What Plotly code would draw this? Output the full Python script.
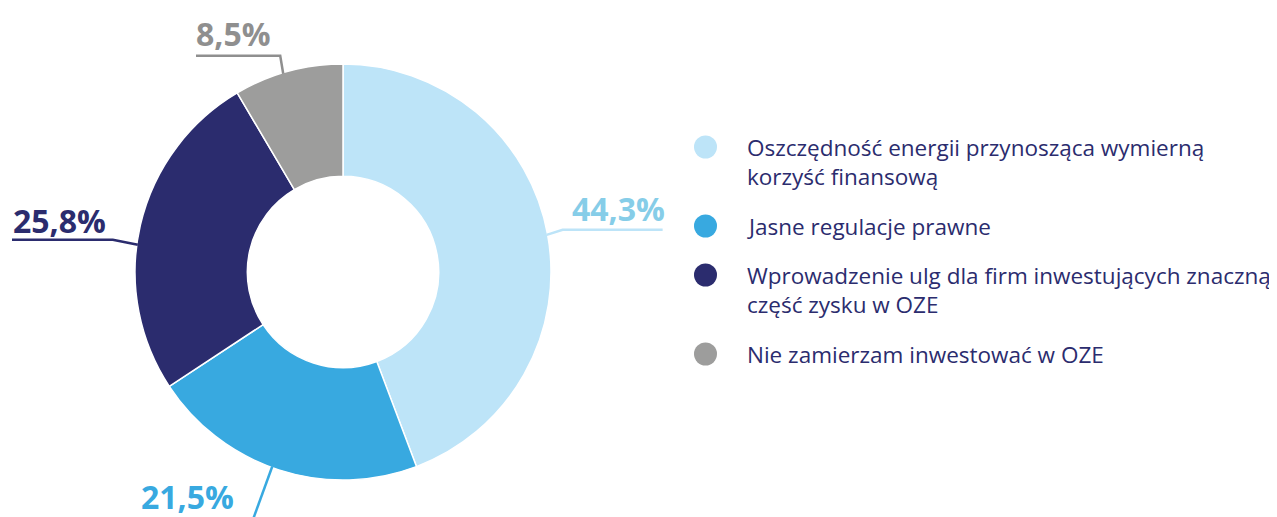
import math
import plotly.graph_objects as go

# ---- data ----
categories = [
    "Oszczędność energii przynosząca wymierną<br>korzyść finansową",
    "Jasne regulacje prawne",
    "Wprowadzenie ulg dla firm inwestujących znaczną<br>część zysku w OZE",
    "Nie zamierzam inwestować w OZE",
]
values = [44.3, 21.5, 25.8, 8.5]
value_labels = ["44,3%", "21,5%", "25,8%", "8,5%"]

# ---- style ----
slice_colors = ["#bde4f8", "#38a9e0", "#2b2c6e", "#9d9d9c"]
label_colors = ["#86cde8", "#38a9e0", "#2b2c6e", "#8f8f8f"]
line_colors = ["#bde4f8", "#38a9e0", "#2b2c6e", "#8f8f8f"]
legend_text_color = "#2b2c6e"

OFF = 8  # page body margin
W, H = 1277 - OFF, 517 - OFF
CX, CY, R = 343, 272, 208  # pie geometry in page pixels
HOLE = 0.46


def px(x):
    return (x - OFF) / W


def py(y):
    return 1 - (y - OFF) / H


fig = go.Figure()
fig.add_trace(go.Pie(
    values=values,
    labels=[c.replace("<br>", " ") for c in categories],
    hole=HOLE,
    sort=False,
    direction="clockwise",
    rotation=0,
    marker=dict(colors=slice_colors, line=dict(color="white", width=1.5)),
    textinfo="none",
    hoverinfo="label+percent",
    showlegend=False,
    domain=dict(x=[px(CX - R), px(CX + R)], y=[py(CY + R), py(CY - R)]),
))

# ---- leader lines and labels (computed from slice angles) ----
total = sum(values)
angle_tweak = [0, 2, -5.5, -1.5]  # degrees, fine placement of leader anchors
shapes = []
annotations = []
cum = 0
for i, v in enumerate(values):
    mid = (cum + v / 2) / total * 360 + angle_tweak[i]
    cum += v
    a = math.radians(mid)
    sx, sy = CX + (R - 1) * math.sin(a), CY - (R - 1) * math.cos(a)
    if i == 0:
        ex, ey = sx + 16, sy - 5
        pts = [(sx, sy), (ex, ey), (ex + 100, ey)]
        lx, ly = 618, ey - 21
    elif i == 1:
        L = 55
        ex, ey = sx + L * math.sin(a), sy - L * math.cos(a)
        pts = [(sx, sy), (ex, ey)]
        lx, ly = 187, 496
    elif i == 2:
        ex, ey = sx - 25, sy - 5
        pts = [(sx, sy), (ex, ey), (12, ey)]
        lx, ly = 60, ey - 19
    else:
        ex, ey = sx - 3, sy - 18
        pts = [(sx, sy), (ex, ey), (196, ey)]
        lx, ly = 233, ey - 22
    path = "M " + " L ".join(f"{px(x):.5f},{py(y):.5f}" for x, y in pts)
    shapes.append(dict(type="path", xref="paper", yref="paper", path=path,
                       line=dict(color=line_colors[i], width=2.5)))
    annotations.append(dict(x=px(lx), y=py(ly), xref="paper", yref="paper",
                            text=f"<b>{value_labels[i]}</b>", showarrow=False,
                            xanchor="center", yanchor="middle",
                            font=dict(family="Open Sans", size=32, color=label_colors[i])))

# ---- custom legend ----
legend_y = [147, 226, 275, 354]
LEG_SIZE = 22.5
pitch = 1.3 * LEG_SIZE
for i, cat in enumerate(categories):
    y0 = legend_y[i]
    n_lines = cat.count("<br>") + 1
    shapes.append(dict(type="circle", xref="paper", yref="paper",
                       x0=px(694), x1=px(717), y0=py(y0 + 11.5), y1=py(y0 - 11.5),
                       fillcolor=slice_colors[i], line=dict(width=0)))
    annotations.append(dict(x=px(745), y=py(y0 + (n_lines - 1) * pitch / 2),
                            xref="paper", yref="paper",
                            text=cat, showarrow=False, xanchor="left", yanchor="middle",
                            align="left",
                            font=dict(family="Open Sans", size=LEG_SIZE, color=legend_text_color)))

fig.update_layout(
    width=W, height=H,
    margin=dict(l=0, r=0, t=0, b=0),
    paper_bgcolor="white", plot_bgcolor="white",
    shapes=shapes, annotations=annotations,
)
fig.write_html("out.html")
